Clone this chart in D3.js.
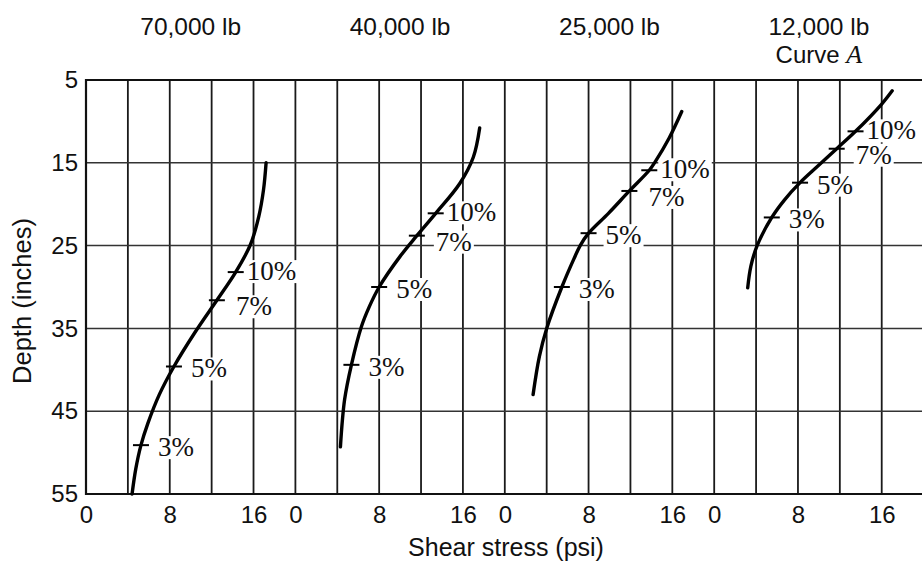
<!DOCTYPE html>
<html>
<head>
<meta charset="utf-8">
<script src="https://cdn.jsdelivr.net/npm/d3@7"></script>
<style>
  body { margin: 0; background: #fff; }
  svg { display: block; }
  text { font-family: "Liberation Sans", Arial, sans-serif; fill: #111; }
  .pct { font-family: "Liberation Serif", "DejaVu Serif", serif; }
</style>
</head>
<body>
<svg id="chart"></svg>
<script>
// panel titles, tick labels
const loads = ["70,000 lb", "40,000 lb", "25,000 lb", "12,000 lb"];
const stressTicks = [0, 8, 16];
const depthTicks = [5, 15, 25, 35, 45, 55];

// curves: [shear stress (psi), depth (in)]
const curve70 = [[17.2, 15.0], [16.95, 18.3], [16.5, 21.5], [15.7, 24.9], [14.3, 28.2], [12.5, 31.6],
  [10.4, 35.5], [8.4, 39.6], [7.0, 43.0], [5.9, 46.5], [5.25, 49.1], [4.75, 52.0], [4.4, 55.0]];
const curve40 = [[17.6, 10.8], [17.0, 14.3], [15.7, 17.5], [13.4, 21.1], [11.6, 23.8], [10.0, 26.3],
  [8.0, 30.0], [7.05, 32.4], [6.3, 34.8], [5.35, 39.4], [4.7, 43.6], [4.3, 49.3]];
const curve25 = [[16.9, 8.8], [15.7, 12.0], [14.3, 15.0], [13.8, 15.9], [11.9, 18.4], [9.9, 21.1],
  [8.0, 23.5], [7.2, 25.0], [6.6, 26.6], [5.45, 30.0], [4.0, 35.0], [3.3, 38.4], [2.7, 43.0]];
const curve12 = [[17.0, 6.3], [16.0, 7.9], [13.5, 11.2], [11.7, 13.3], [9.9, 15.4], [8.2, 17.4],
  [6.7, 19.5], [5.5, 21.6], [4.1, 25.0], [3.5, 27.5], [3.2, 30.1]];
const curves = [curve70, curve40, curve25, curve12];

// percent marks on each curve, same order as pctLabels
const pctLabels = ["10%", "7%", "5%", "3%"];
const marks70 = [[14.3, 28.2], [12.5, 31.6], [8.4, 39.6], [5.25, 49.1]];
const marks40 = [[13.4, 21.1], [11.6, 23.8], [8.0, 30.0], [5.35, 39.4]];
const marks25 = [[13.8, 15.9], [11.9, 18.4], [8.0, 23.5], [5.45, 30.0]];
const marks12 = [[13.5, 11.2], [11.7, 13.3], [8.2, 17.4], [5.5, 21.6]];
const marks = [marks70, marks40, marks25, marks12];

const width = 922, height = 565;
const plotLeft = 86, plotTop = 80, plotBottom = 494;
const panelW = 209.4;
const labelDx = {"10%": 11, "7%": 19, "5%": 17, "3%": 17};
const labelDy = {"10%": -1, "7%": 6, "5%": 2, "3%": 2};

const svg = d3.select("#chart").attr("width", width).attr("height", height);

const y = d3.scaleLinear().domain([5, 55]).range([plotTop, plotBottom]);
const xAll = d3.scaleLinear().domain([0, 80]).range([plotLeft, plotLeft + 4 * panelW]);

// grid
const grid = svg.append("g");
grid.selectAll(".vg")
  .data(d3.range(0, 81, 4))
  .enter().append("line")
    .attr("x1", d => xAll(d)).attr("x2", d => xAll(d))
    .attr("y1", plotTop).attr("y2", plotBottom)
    .attr("stroke", "#1a1a1a").attr("stroke-width", 1.8);
grid.selectAll(".hg")
  .data([15, 25, 35, 45])
  .enter().append("line")
    .attr("x1", plotLeft).attr("x2", width)
    .attr("y1", d => y(d)).attr("y2", d => y(d))
    .attr("stroke", "#333").attr("stroke-width", 1.5);
// frame (right edge runs off the page)
grid.append("path")
  .attr("d", `M${width},${plotTop}H${plotLeft}V${plotBottom}H${width}`)
  .attr("fill", "none").attr("stroke", "#111").attr("stroke-width", 2.2);

// y axis
const yAxis = svg.append("g")
  .attr("transform", `translate(${plotLeft},0)`)
  .call(d3.axisLeft(y).tickValues(depthTicks).tickSize(0).tickPadding(8));
yAxis.select(".domain").remove();
yAxis.selectAll("text").style("font-size", "24px").style("font-family", "Liberation Sans, Arial, sans-serif").attr("fill", "#111");

svg.append("text")
  .attr("transform", "translate(31,301) rotate(-90)")
  .attr("text-anchor", "middle")
  .style("font-size", "25.5px")
  .text("Depth (inches)");

svg.append("text")
  .attr("x", 506).attr("y", 556)
  .attr("text-anchor", "middle")
  .style("font-size", "25px")
  .text("Shear stress (psi)");

const line = d3.line()
  .curve(d3.curveCatmullRom.alpha(0.5));

loads.forEach((load, i) => {
  const x = d3.scaleLinear().domain([0, 20]).range([plotLeft + i * panelW, plotLeft + (i + 1) * panelW]);

  const xAxis = svg.append("g")
    .attr("transform", `translate(0,${plotBottom})`)
    .call(d3.axisBottom(x).tickValues(stressTicks).tickSize(0).tickPadding(12).tickFormat(d3.format("d")));
  xAxis.select(".domain").remove();
  xAxis.selectAll("text").style("font-size", "24px").style("font-family", "Liberation Sans, Arial, sans-serif").attr("fill", "#111");

  svg.append("text")
    .attr("x", x(10)).attr("y", 35)
    .attr("text-anchor", "middle")
    .style("font-size", "24.5px")
    .text(load);
  if (i === 3) {
    const t2 = svg.append("text")
      .attr("x", x(10)).attr("y", 63)
      .attr("text-anchor", "middle")
      .style("font-size", "24px");
    t2.append("tspan").text("Curve ");
    t2.append("tspan").attr("class", "pct").style("font-style", "italic").style("font-size", "26px").text("A");
  }

  // percent labels with white knock-out behind them
  const g = svg.append("g");
  marks[i].forEach((m, k) => {
    const lab = pctLabels[k];
    const t = g.append("text")
      .attr("class", "pct")
      .attr("x", x(m[0]) + labelDx[lab])
      .attr("y", y(m[1]) + labelDy[lab])
      .attr("dominant-baseline", "central")
      .style("font-size", "27px")
      .text(lab);
    const bb = t.node().getBBox();
    g.insert("rect", "text")
      .attr("x", bb.x - 2).attr("y", bb.y + 4)
      .attr("width", bb.width + 4).attr("height", bb.height - 7)
      .attr("fill", "#fff");
  });

  svg.append("path")
    .datum(curves[i])
    .attr("d", line.x(d => x(d[0])).y(d => y(d[1])))
    .attr("fill", "none")
    .attr("stroke", "#000")
    .attr("stroke-width", 3.4)
    .attr("stroke-linecap", "round");

  svg.append("g").selectAll("line")
    .data(marks[i])
    .enter().append("line")
      .attr("x1", d => x(d[0]) - 8).attr("x2", d => x(d[0]) + 8)
      .attr("y1", d => y(d[1])).attr("y2", d => y(d[1]))
      .attr("stroke", "#000").attr("stroke-width", 2);
});
</script>
</body>
</html>
